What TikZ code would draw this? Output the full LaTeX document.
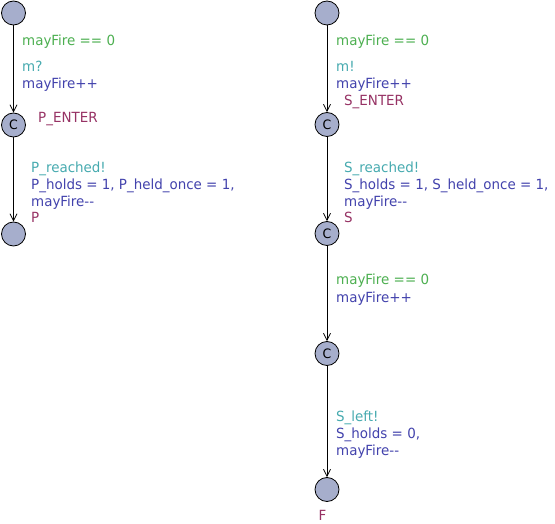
\documentclass[tikz,border=0pt]{standalone}
\usepackage{fontspec}
\newfontfamily\uf{DejaVu Sans}[FakeStretch=0.96]
\usetikzlibrary{arrows.meta}
\definecolor{cguard}{RGB}{76,175,80}
\definecolor{csync}{RGB}{70,170,175}
\definecolor{cassign}{RGB}{66,66,172}
\definecolor{cname}{RGB}{150,50,100}
\definecolor{clocfill}{RGB}{166,174,204}
\begin{document}
\begin{tikzpicture}[x=1pt,y=-1pt,
  loc/.style={circle, draw=black, fill=clocfill, minimum size=24pt, inner sep=0pt, line width=0.8pt, font=\uf\fontsize{13}{13}\selectfont},
  lbl/.style={anchor=base west, inner sep=0pt, font=\uf\fontsize{14}{16}\selectfont},
  guard/.style={lbl, text=cguard},
  sync/.style={lbl, text=csync},
  assign/.style={lbl, text=cassign},
  lname/.style={lbl, text=cname},
  edge/.style={-{Straight Barb[length=7pt,width=7pt]}, line width=0.8pt}]
\useasboundingbox (0,0) rectangle (555,524);
% left automaton
\node[loc] (l0) at (13.5,13) {};
\node[loc] (l1) at (13.5,125) {C};
\node[loc] (l2) at (13.5,234) {};
\draw[edge] (l0) -- (l1);
\draw[edge] (l1) -- (l2);
\node[guard] (lg1) at (22,46) {mayFire == 0};
\node[sync] (ls1) at (22,72) {m?};
\node[assign] (la1) at (22,89) {mayFire++};
\node[lname] (ln1) at (38,122.5) {P\_ENTER};
\node[sync] (ls2) at (31,173) {P\_reached!};
\node[assign] (la2) at (31,190) {P\_holds = 1, P\_held\_once = 1,};
\node[assign] (la3) at (31,206.5) {mayFire-\kern0pt-};
\node[lname] (ln2) at (31,223) {P};
% right automaton
\node[loc] (r0) at (327,13) {};
\node[loc] (r1) at (327,124.5) {C};
\node[loc] (r2) at (327,233.5) {C};
\node[loc] (r3) at (327,353.5) {C};
\node[loc] (r4) at (327,489.5) {};
\draw[edge] (r0) -- (r1);
\draw[edge] (r1) -- (r2);
\draw[edge] (r2) -- (r3);
\draw[edge] (r3) -- (r4);
\node[guard] (rg1) at (336,46) {mayFire == 0};
\node[sync] (rs1) at (336,72) {m!};
\node[assign] (ra1) at (336,89) {mayFire++};
\node[lname] (rn1) at (344,105.5) {S\_ENTER};
\node[sync] (rs2) at (344,173) {S\_reached!};
\node[assign] (ra2) at (344,190) {S\_holds = 1, S\_held\_once = 1,};
\node[assign] (ra3) at (344,206.5) {mayFire-\kern0pt-};
\node[lname] (rn2) at (344,223) {S};
\node[guard] (rg2) at (336,285) {mayFire == 0};
\node[assign] (ra4) at (336,302) {mayFire++};
\node[sync] (rs3) at (336,421.5) {S\_left!};
\node[assign] (ra5) at (336,438.5) {S\_holds = 0,};
\node[assign] (ra6) at (336,455) {mayFire-\kern0pt-};
\node[lname] (rn3) at (318.5,520) {F};
\end{tikzpicture}
\end{document}
